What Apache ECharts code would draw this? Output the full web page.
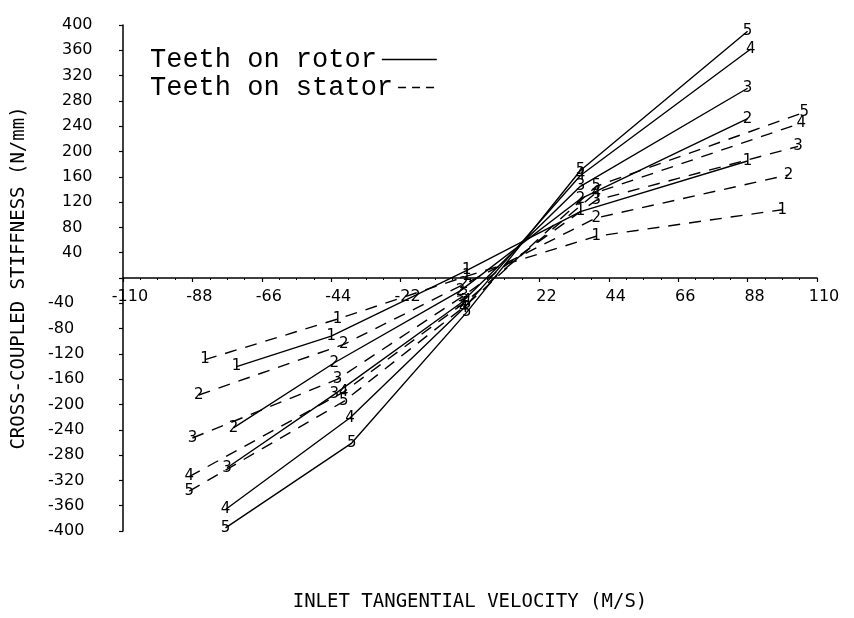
<!DOCTYPE html>
<html>
<head>
<meta charset="utf-8">
<script src="https://cdn.jsdelivr.net/npm/echarts@6/dist/echarts.min.js"></script>
<style>html,body{margin:0;padding:0;background:#fff}#chart{width:854px;height:618px}</style>
</head>
<body>
<div id="chart"></div>
<script>
// Tick settings
const xTicks = { min: -110, max: 110, step: 22 };
const yTicks = { min: -400, max: 400, step: 40 };

// Teeth on rotor (solid) : [inlet tangential velocity, cross-coupled stiffness]
const rotor1 = [[-74, -140], [-44, -92], [-1, 12], [35, 105], [88, 185]];
const rotor2 = [[-75, -237], [-43, -134], [-3, -20], [35, 125], [88, 252]];
const rotor3 = [[-77, -300], [-43, -184], [-3, -40], [35, 145], [88, 300]];
const rotor4 = [[-77.5, -366], [-38, -221], [-2, -48], [35, 162], [89, 362]];
const rotor5 = [[-77.5, -395], [-37.5, -261], [-1, -54], [35, 170], [88, 390]];

// Teeth on stator (dashed)
const stator1 = [[-84, -129], [-42, -65], [-1, 3], [40, 66], [99, 108]];
const stator2 = [[-86, -185], [-40, -105], [-2, -10], [40, 95], [101, 163]];
const stator3 = [[-88, -253], [-42, -160], [-2, -28], [40, 123], [104, 208]];
const stator4 = [[-89, -314], [-40, -180], [-1, -36], [40, 135], [105, 245]];
const stator5 = [[-89, -337], [-40, -195], [-1, -42], [40, 145], [106, 262]];

const curveIds = ['1', '2', '3', '4', '5'];
const rotorName = 'Teeth on rotor';
const statorName = 'Teeth on stator';

const rotorSets = [rotor1, rotor2, rotor3, rotor4, rotor5];
const statorSets = [stator1, stator2, stator3, stator4, stator5];

const labelFont = 'DejaVu Sans';

function makeSeries(name, data, id, dashed) {
  return {
    name: name,
    type: 'line',
    data: data,
    symbol: 'circle',
    symbolSize: 1,
    itemStyle: { color: '#000', opacity: 0 },
    lineStyle: { color: '#000', width: 1.4, type: dashed ? [12, 9] : 'solid' },
    label: {
      show: true, position: 'inside', formatter: id,
      color: '#000', fontFamily: labelFont, fontSize: 15, opacity: 1
    },
    emphasis: { disabled: true },
    animation: false,
    z: 3
  };
}

const series = [];
rotorSets.forEach((d, i) => series.push(makeSeries(rotorName, d, curveIds[i], false)));
statorSets.forEach((d, i) => series.push(makeSeries(statorName, d, curveIds[i], true)));

const legendText = { fontFamily: 'Liberation Mono', fontSize: 27, color: '#000' };

const chart = echarts.init(document.getElementById('chart'), null, { renderer: 'canvas' });
chart.setOption({
  backgroundColor: '#fff',
  animation: false,
  grid: { left: 123, right: 37, top: 25, bottom: 87, containLabel: false, outerBoundsMode: 'none' },
  legend: [
    {
      left: 145, top: 41, orient: 'horizontal', align: 'right',
      itemWidth: 55, itemHeight: 14, selectedMode: false,
      itemStyle: { opacity: 0 }, textStyle: legendText,
      data: [{ name: rotorName, lineStyle: { color: '#000', width: 1.4, type: 'solid' } }]
    },
    {
      left: 145, top: 69, orient: 'horizontal', align: 'right',
      itemWidth: 40, itemHeight: 14, selectedMode: false,
      itemStyle: { opacity: 0 }, textStyle: legendText,
      data: [{ name: statorName, lineStyle: { color: '#000', width: 1.4, type: [8, 6] } }]
    }
  ],
  xAxis: {
    type: 'value', position: 'bottom', offset: -253,
    min: xTicks.min, max: xTicks.max, interval: xTicks.step,
    axisLine: { onZero: false, lineStyle: { color: '#000', width: 1.5 } },
    axisTick: { show: true, length: 4, lineStyle: { color: '#000', width: 1.2 } },
    minorTick: { show: true, splitNumber: 4, length: 2, lineStyle: { color: '#000' } },
    splitLine: { show: false },
    axisLabel: {
      margin: 11, color: '#000', fontFamily: labelFont, fontSize: 16,
      padding: [0, 0, 0, 14],
      formatter: v => (v === 0 ? '' : String(v))
    },
    name: 'INLET TANGENTIAL VELOCITY (M/S)', nameLocation: 'middle', nameGap: 315,
    nameTextStyle: { fontFamily: 'DejaVu Sans Mono', fontSize: 19, color: '#000' }
  },
  yAxis: {
    type: 'value', min: yTicks.min, max: yTicks.max, interval: yTicks.step,
    axisLine: { onZero: false, lineStyle: { color: '#000', width: 1.5 } },
    axisTick: { show: true, length: 4, lineStyle: { color: '#000', width: 1.2 } },
    splitLine: { show: false },
    axisLabel: {
      align: 'left', margin: 75, color: '#000', fontFamily: labelFont, fontSize: 16,
      formatter: v => (v === 0 ? '' : (v < 0 ? String(v) : '{p|}' + v)),
      rich: { p: { width: 14 } }
    },
    name: 'CROSS-COUPLED STIFFNESS (N/mm)', nameLocation: 'middle', nameRotate: 90, nameGap: 94,
    nameTextStyle: { fontFamily: 'DejaVu Sans Mono', fontSize: 19, color: '#000' }
  },
  series: series
});
</script>
</body>
</html>
